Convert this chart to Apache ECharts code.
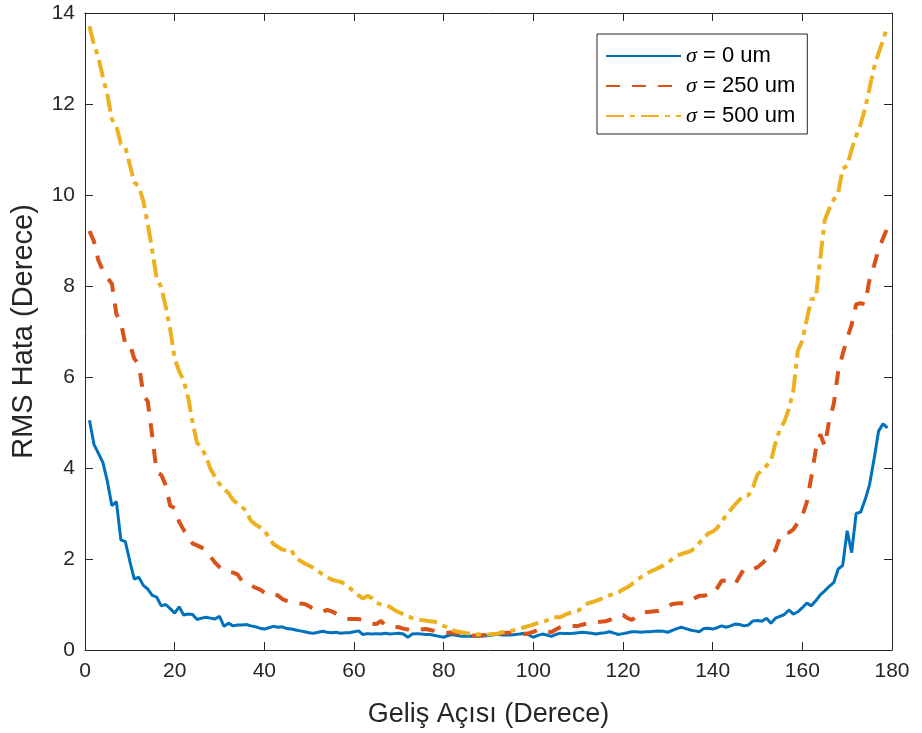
<!DOCTYPE html>
<html><head><meta charset="utf-8">
<script src="https://cdn.jsdelivr.net/npm/echarts@6/dist/echarts.min.js"></script>
<style>html,body{margin:0;padding:0;background:#fff}#c{width:922px;height:733px}</style>
</head><body><div id="c"></div>
<script>
const ANGLE_START = 1;
const xTickInterval = 20;
const yTickInterval = 2;
const seriesNames = ['σ = 0 um', 'σ = 250 um', 'σ = 500 um'];

const sigma0 = [
5.05,4.52,4.32,4.12,3.70,3.17,3.26,2.42,2.38,1.95,
1.56,1.60,1.42,1.34,1.20,1.16,0.97,1.00,0.91,0.81,
0.95,0.77,0.79,0.78,0.67,0.70,0.72,0.70,0.68,0.74,
0.52,0.59,0.53,0.55,0.55,0.56,0.53,0.51,0.48,0.46,
0.49,0.52,0.50,0.51,0.47,0.46,0.44,0.42,0.40,0.38,
0.37,0.39,0.41,0.39,0.38,0.39,0.37,0.38,0.38,0.40,
0.42,0.34,0.36,0.35,0.36,0.35,0.37,0.35,0.36,0.37,
0.35,0.28,0.35,0.36,0.35,0.34,0.34,0.32,0.30,0.28,
0.32,0.34,0.32,0.30,0.30,0.31,0.30,0.30,0.31,0.32,
0.33,0.35,0.33,0.33,0.33,0.34,0.35,0.37,0.33,0.28,
0.32,0.35,0.33,0.30,0.34,0.37,0.36,0.36,0.37,0.38,
0.39,0.38,0.37,0.35,0.37,0.38,0.40,0.37,0.34,0.36,
0.38,0.40,0.40,0.39,0.40,0.40,0.41,0.42,0.41,0.39,
0.43,0.47,0.50,0.47,0.44,0.42,0.40,0.47,0.48,0.46,
0.49,0.53,0.50,0.53,0.57,0.56,0.53,0.55,0.64,0.65,
0.63,0.70,0.59,0.70,0.74,0.78,0.88,0.79,0.84,0.93,
1.03,0.97,1.08,1.21,1.30,1.40,1.48,1.78,1.86,2.62,
2.14,3.00,3.03,3.30,3.64,4.20,4.81,4.97,4.88
];

const sigma250 = [
9.21,8.98,8.56,8.34,8.18,8.05,7.38,7.20,6.72,6.72,
6.40,6.28,5.62,5.46,4.70,3.90,3.85,3.62,3.17,3.12,
2.82,2.64,2.50,2.34,2.30,2.25,2.20,2.05,1.92,1.82,
1.74,1.72,1.70,1.66,1.52,1.45,1.42,1.37,1.33,1.26,
1.20,1.22,1.20,1.12,1.08,1.05,1.04,1.02,1.01,0.96,
0.90,0.86,0.84,0.88,0.85,0.80,0.74,0.70,0.68,0.68,
0.68,0.66,0.62,0.58,0.57,0.64,0.54,0.52,0.51,0.50,
0.47,0.45,0.42,0.43,0.45,0.46,0.44,0.42,0.39,0.38,
0.38,0.39,0.37,0.34,0.31,0.31,0.32,0.32,0.33,0.33,
0.34,0.35,0.37,0.38,0.38,0.39,0.36,0.35,0.37,0.40,
0.44,0.46,0.42,0.39,0.45,0.50,0.53,0.54,0.53,0.53,
0.56,0.58,0.60,0.61,0.62,0.63,0.66,0.71,0.76,0.77,
0.70,0.66,0.74,0.81,0.83,0.84,0.85,0.86,0.90,0.95,
1.01,1.02,1.03,1.03,1.08,1.14,1.19,1.19,1.22,1.22,
1.36,1.52,1.53,1.48,1.45,1.62,1.78,1.80,1.78,1.82,
1.90,2.00,2.10,2.20,2.48,2.60,2.58,2.65,2.80,2.95,
3.25,3.80,4.40,4.74,4.48,5.05,5.40,6.13,6.50,6.85,
7.15,7.60,7.62,7.60,8.15,8.45,8.80,9.05,9.28
];

const sigma500 = [
13.71,13.30,13.03,12.58,12.20,11.66,11.52,11.12,11.05,10.66,
10.28,10.19,9.87,9.36,8.78,8.15,7.98,7.55,7.05,6.40,
6.13,5.92,5.55,5.00,4.55,4.45,4.25,3.98,3.80,3.65,
3.54,3.45,3.30,3.22,3.15,3.04,2.84,2.76,2.70,2.62,
2.48,2.33,2.27,2.21,2.18,2.20,2.02,1.96,1.90,1.85,
1.80,1.73,1.66,1.60,1.55,1.52,1.50,1.45,1.37,1.28,
1.20,1.13,1.19,1.14,1.04,1.00,0.98,0.95,0.88,0.83,
0.79,0.74,0.70,0.68,0.66,0.65,0.63,0.62,0.58,0.53,
0.49,0.44,0.41,0.39,0.37,0.36,0.35,0.34,0.33,0.34,
0.35,0.36,0.39,0.41,0.42,0.44,0.47,0.50,0.53,0.56,
0.59,0.61,0.65,0.70,0.72,0.72,0.77,0.81,0.84,0.86,
0.95,1.02,1.05,1.08,1.12,1.16,1.20,1.24,1.27,1.33,
1.38,1.45,1.53,1.60,1.66,1.72,1.76,1.81,1.86,1.92,
2.00,2.07,2.11,2.14,2.17,2.24,2.35,2.46,2.56,2.60,
2.68,2.82,2.96,3.08,3.20,3.30,3.39,3.40,3.58,3.86,
3.95,4.05,4.15,4.55,4.85,5.02,5.30,5.70,6.58,6.80,
7.27,7.71,7.73,8.60,9.45,9.70,9.90,10.05,10.58,10.64,
11.00,11.30,11.56,11.90,12.35,12.80,13.12,13.40,13.72
];

const angles = sigma0.map((_, i) => ANGLE_START + i);
const pairs = arr => arr.map((v, i) => [angles[i], v]);

const AX = '#262626';
const FONT = '"Liberation Sans", Arial, Helvetica, sans-serif';

const axisCommon = {
  type: 'value',
  axisLine: { show: true, onZero: false, lineStyle: { color: AX, width: 1 } },
  axisTick: { show: true, inside: true, length: 8, lineStyle: { color: AX, width: 1 } },
  splitLine: { show: false }
};

const chart = echarts.init(document.getElementById('c'), null, { renderer: 'canvas' });
chart.setOption({
  animation: false,
  backgroundColor: '#ffffff',
  textStyle: { fontFamily: FONT },
  grid: { left: 85, right: 30, top: 13, bottom: 82, containLabel: false },
  legend: {
    orient: 'vertical',
    left: 597, top: 34,
    padding: [11, 12, 7, 8],
    itemWidth: 75, itemHeight: 14, itemGap: 8,
    backgroundColor: '#ffffff',
    borderColor: AX, borderWidth: 1,
    itemStyle: { opacity: 0 },
    data: seriesNames,
    formatter: name => name.replace('σ', '{s|σ}'),
    textStyle: {
      fontFamily: FONT, fontSize: 22, color: '#000', lineHeight: 22,
      rich: { s: { fontStyle: 'italic', fontFamily: '"Liberation Serif", serif', fontSize: 22, color: '#000' } }
    }
  },
  xAxis: [
    Object.assign({}, axisCommon, {
      position: 'bottom', min: 0, max: 180, interval: xTickInterval,
      axisLabel: { show: true, fontSize: 21, color: AX, margin: 11, fontFamily: FONT },
      name: 'Geliş Açısı (Derece)', nameLocation: 'middle', nameGap: 51,
      nameTextStyle: { fontSize: 27, color: AX, fontFamily: FONT }
    }),
    Object.assign({}, axisCommon, {
      position: 'top', min: 0, max: 180, interval: xTickInterval,
      axisLabel: { show: false }
    })
  ],
  yAxis: [
    Object.assign({}, axisCommon, {
      position: 'left', min: 0, max: 14, interval: yTickInterval,
      axisLabel: { show: true, fontSize: 21, color: AX, margin: 10, fontFamily: FONT },
      name: 'RMS Hata (Derece)', nameLocation: 'middle', nameGap: 47,
      nameTextStyle: { fontSize: 29, color: AX, fontFamily: FONT }
    }),
    Object.assign({}, axisCommon, {
      position: 'right', min: 0, max: 14, interval: yTickInterval,
      axisLabel: { show: false }
    })
  ],
  series: [
    { name: seriesNames[0], type: 'line', data: pairs(sigma0), showSymbol: false, symbol: 'none',
      color: '#0072BD', lineStyle: { color: '#0072BD', width: 3, type: 'solid' }, z: 2 },
    { name: seriesNames[1], type: 'line', data: pairs(sigma250), showSymbol: false, symbol: 'none',
      color: '#D95319', lineStyle: { color: '#D95319', width: 4, type: [14, 12] }, z: 3 },
    { name: seriesNames[2], type: 'line', data: pairs(sigma500), showSymbol: false, symbol: 'none',
      color: '#EDB120', lineStyle: { color: '#EDB120', width: 4, type: [18, 6, 5, 6] }, z: 4 }
  ]
});
</script>
</body></html>
